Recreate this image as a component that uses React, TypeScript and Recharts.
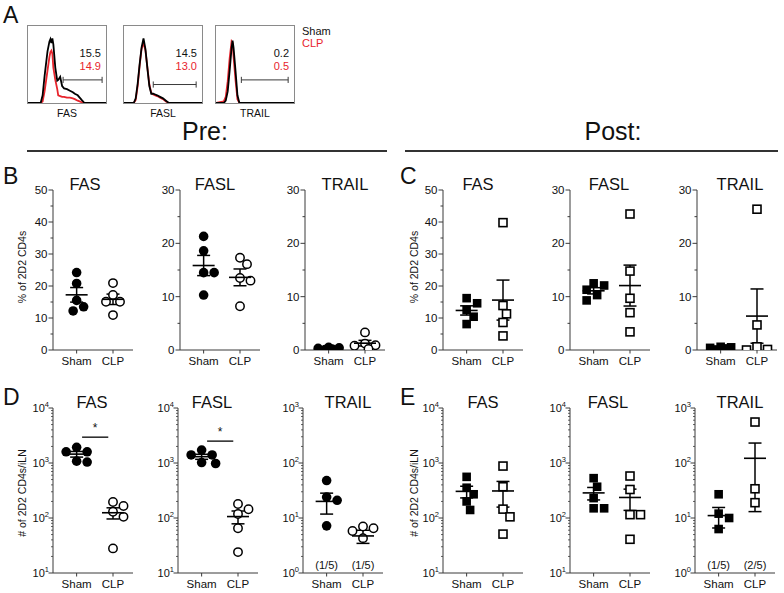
import React from "react";
import {
  ErrorBar,
  Line,
  LineChart,
  ReferenceLine,
  Scatter,
  ScatterChart,
  XAxis,
  YAxis,
} from "recharts";

const FONT = "'Liberation Sans', Arial, Helvetica, sans-serif";
const NARROW = "'Liberation Sans Narrow', 'Liberation Sans', Arial, sans-serif";
const INK = "#111111";
const AXIS = "#3a3a3a";
const RED = "#e8242c";
const BOX = "#8a8a8a";

const groups = ["Sham", "CLP"];

// A: flow histograms (channel 0-80, height in % of max)
const fasChannel = [0, 13, 15, 17, 20, 22, 23, 24, 25, 26, 28, 30, 31, 33, 35, 37, 40, 43, 46, 48, 51, 53, 55, 58, 80];
const fasSham = [0, 0, 10, 35, 67, 80, 83, 78, 84, 76, 46, 29, 30, 34, 22, 19, 18, 16, 14, 12, 10, 7, 4, 0, 0];
const fasClp = [0, 0, 2, 15, 42, 60, 66, 68, 64, 46, 30, 18, 10, 9, 8, 8, 7, 7, 6, 5, 3, 2, 1, 0, 0];

const faslChannel = [0, 10, 12, 14, 16, 18, 20, 22, 24, 26, 28, 30, 32, 34, 37, 40, 43, 46, 80];
const faslSham = [0, 0, 6, 25, 50, 72, 84, 70, 45, 22, 12, 12, 11, 10, 8, 6, 3, 0, 0];
const faslClp = [0, 0, 4, 22, 48, 70, 78, 68, 46, 24, 13, 11, 10, 9, 7, 5, 2, 0, 0];

const trailChannel = [0, 8, 10, 12, 14, 16, 17, 18, 20, 22, 24, 80];
const trailSham = [0, 0, 3, 15, 42, 72, 81, 72, 42, 10, 0, 0];
const trailClp = [0, 2, 8, 28, 58, 80, 78, 60, 30, 5, 0, 0];

const fasGate = [36, 76, 30];
const faslGate = [30, 74, 24];
const trailGate = [26, 74, 30];

const fasPct = ["15.5", "14.9"];
const faslPct = ["14.5", "13.0"];
const trailPct = ["0.2", "0.5"];

// B: % of 2D2 CD4s, pre
const preFasSham = [24.2, 20.8, 15.5, 13.5, 12.2];
const preFasClp = [20.9, 17.2, 15.1, 15.1, 10.9];
const preFaslSham = [21.3, 18.6, 14.5, 14.5, 10.3];
const preFaslClp = [17.3, 16.1, 13.5, 13.0, 8.2];
const preTrailSham = [0.5, 0.4, 0.3, 0.2, 0.1];
const preTrailClp = [3.3, 1.2, 0.9, 0.8, 0.2];

// C: % of 2D2 CD4s, post
const postFasSham = [16.2, 14.6, 12.5, 10.4, 8.1];
const postFasClp = [39.8, 13.9, 11.3, 8.6, 4.4];
const postFaslSham = [12.5, 12.1, 11.3, 10.3, 9.3];
const postFaslClp = [25.5, 14.8, 9.7, 7.0, 3.4];
const postTrailSham = [0.6, 0.5, 0.4, 0.3, 0.1];
const postTrailClp = [26.4, 4.7, 0.6, 0.1, 0];

// D: # of 2D2 CD4s/iLN, pre (zeros are not drawn on the log axis)
const preNumFasSham = [1930, 1600, 1600, 1080, 1040];
const preNumFasClp = [195, 165, 130, 105, 28];
const preNumFaslSham = [1720, 1400, 1400, 1020, 980];
const preNumFaslClp = [180, 144, 118, 65, 24];
const preNumTrailSham = [48, 24, 21, 7.2, 0];
const preNumTrailClp = [7, 6.5, 5.8, 4.3, 0];

// E: # of 2D2 CD4s/iLN, post
const postNumFasSham = [560, 355, 270, 200, 140];
const postNumFasClp = [880, 370, 145, 105, 51];
const postNumFaslSham = [530, 370, 230, 150, 150];
const postNumFaslClp = [580, 330, 115, 115, 41];
const postNumTrailSham = [27, 12, 10, 6.3, 0];
const postNumTrailClp = [556, 34, 19, 0, 0];

const pctTicks30 = [0, 5, 10, 15, 20, 25, 30];
const pctMajor30 = [0, 10, 20, 30];
const pctTicks50 = [0, 5, 10, 15, 20, 25, 30, 35, 40, 45, 50];
const pctMajor50 = [0, 10, 20, 30, 40, 50];
const logMajor4 = [10, 100, 1000, 10000];
const logMajor3 = [1, 10, 100, 1000];

// decades plus 2..9 minor ticks
function withMinors(majors: number[]) {
  const out: number[] = [];
  majors.forEach((m, i) => {
    out.push(m);
    if (i < majors.length - 1) for (let k = 2; k <= 9; k++) out.push(m * k);
  });
  return out;
}

function Txt(props: any) {
  const { x, y, size, color = INK, family = FONT, rotate = false, anchor = "middle", children } = props;
  const tx = anchor === "middle" ? "-50%" : anchor === "end" ? "-100%" : "0";
  return (
    <div
      style={{
        position: "absolute",
        left: x,
        top: y,
        transform: `translate(${tx},-50%)${rotate ? " rotate(-90deg)" : ""}`,
        fontFamily: family,
        fontSize: size,
        lineHeight: 1,
        color,
        whiteSpace: "nowrap",
      }}
    >
      {children}
    </div>
  );
}

function Histogram(props: any) {
  const { left, label, channel, sham, clp, gate, pct } = props;
  const rows = channel.map((c: number, i: number) => ({ c, sham: sham[i], clp: clp[i] }));
  const [g0, g1, lv] = gate;
  return (
    <>
      <div
        style={{
          position: "absolute",
          left,
          top: 25,
          width: 80,
          height: 79,
          border: `1px solid ${BOX}`,
          boxSizing: "border-box",
        }}
      >
        <LineChart width={78} height={77} data={rows} margin={{ top: 0, right: 0, bottom: 0, left: 0 }}>
          <XAxis type="number" dataKey="c" domain={[0, 80]} hide />
          <YAxis type="number" domain={[0, 100]} hide />
          <ReferenceLine segment={[{ x: g0, y: lv }, { x: g1, y: lv }]} stroke={AXIS} strokeWidth={1} />
          <ReferenceLine segment={[{ x: g0, y: lv - 4 }, { x: g0, y: lv + 4 }]} stroke={AXIS} strokeWidth={1} />
          <ReferenceLine segment={[{ x: g1, y: lv - 4 }, { x: g1, y: lv + 4 }]} stroke={AXIS} strokeWidth={1} />
          <Line type="linear" dataKey="clp" stroke={RED} strokeWidth={1.8} dot={false} isAnimationActive={false} />
          <Line type="linear" dataKey="sham" stroke="#000" strokeWidth={1.8} dot={false} isAnimationActive={false} />
        </LineChart>
      </div>
      <Txt x={left + 40} y={113} size={10.5}>{label}</Txt>
      <Txt x={left + 74} y={53} size={11} anchor="end">{pct[0]}</Txt>
      <Txt x={left + 74} y={66} size={11} anchor="end" color={RED}>{pct[1]}</Txt>
    </>
  );
}

const PW = 80;
const YW = 45;
const MT = 12;
const XH = 28;
const XDOM: [number, number] = [0.35, 2.55];

// simple beeswarm: spread points sideways when they collide (pixel space)
function swarm(values: number[], toPx: (v: number) => number, center: number) {
  const pxPerX = PW / (XDOM[1] - XDOM[0]);
  const h = 3.5;
  const R = 9;
  const cands = [0, 1, -1, 2, -2, 3, -3, 4, -4].map((k) => k * h);
  const placed: { px: number; py: number }[] = [];
  const out: { x: number; y: number }[] = [];
  const order = values.map((_, i) => i).sort((a, b) => values[b] - values[a]);
  for (const i of order) {
    const py = toPx(values[i]);
    let best: number | null = null;
    for (const dx of cands) {
      if (placed.every((p) => Math.hypot(p.px - dx, p.py - py) >= R)) {
        best = dx;
        break;
      }
    }
    if (best === null) {
      let bestD = -1;
      for (const dx of cands.slice(0, 5)) {
        const d = Math.min(...placed.map((p) => Math.hypot(p.px - dx, p.py - py)));
        if (d > bestD) {
          bestD = d;
          best = dx;
        }
      }
    }
    placed.push({ px: best as number, py });
    out.push({ x: center + (best as number) / pxPerX, y: values[i] });
  }
  return out;
}

function meanSem(values: number[]) {
  const n = values.length;
  const m = values.reduce((a, b) => a + b, 0) / n;
  const sd = Math.sqrt(values.reduce((a, b) => a + (b - m) * (b - m), 0) / (n - 1));
  return { m, sem: sd / Math.sqrt(n) };
}

function DotPlot(props: any) {
  const { left, top, height, title, titleX, sham, clp, log, domain, ticks, majors, square, sig } = props;
  const d0 = log ? Math.log10(domain[0]) : domain[0];
  const d1 = log ? Math.log10(domain[1]) : domain[1];
  const toPx = (v: number) => ((log ? Math.log10(v) : v) - d0) * (height / (d1 - d0));
  const keep = (v: number) => !log || v > 0;
  const shamPts = swarm(sham.filter(keep), toPx, 1);
  const clpPts = swarm(clp.filter(keep), toPx, 2);
  const summary = [sham, clp].map((vals: number[], i: number) => {
    const { m, sem } = meanSem(vals);
    return { x: i + 1, y: m, err: sem };
  });
  const notes = [sham, clp].map((vals: number[]) => {
    const z = vals.filter((v) => v <= 0).length;
    return log && z > 0 ? `(${z}/${vals.length})` : "";
  });

  const YTick = (p: any) => {
    const v = p.payload.value;
    const major = majors.includes(v);
    const exp = Math.round(Math.log10(v));
    return (
      <g>
        <line x1={p.x - (major ? 4.5 : log ? 2 : 2.5)} x2={p.x} y1={p.y} y2={p.y} stroke={AXIS} strokeWidth={log && !major ? 0.8 : 1} />
        {major &&
          (log ? (
            <text x={p.x - 4} y={p.y + 4} textAnchor="end" fontSize={11} fill={INK} fontFamily={FONT}>
              10<tspan dy={-5} fontSize={7.5}>{exp}</tspan>
            </text>
          ) : (
            <text x={p.x - 5.5} y={p.y + 4} textAnchor="end" fontSize={11.5} fill={INK} fontFamily={FONT}>
              {v}
            </text>
          ))}
      </g>
    );
  };
  const XTick = (p: any) => {
    const idx = Math.round(p.payload.value) - 1;
    return (
      <g>
        <line x1={p.x} x2={p.x} y1={p.y} y2={p.y + 3.5} stroke={AXIS} />
        <text x={p.x} y={p.y + 14.5} textAnchor="middle" fontSize={11.5} fill={INK} fontFamily={FONT}>
          {groups[idx]}
        </text>
        {notes[idx] && (
          <text x={p.x} y={p.y - 4} textAnchor="middle" fontSize={11} fill={INK} fontFamily={FONT}>
            {notes[idx]}
          </text>
        )}
      </g>
    );
  };

  const Marker = (open: boolean) => (p: any) => {
    if (p.cx == null || p.cy == null) return <g />;
    if (square) {
      const s = open ? 8 : 8.6;
      return (
        <rect
          x={p.cx - s / 2}
          y={p.cy - s / 2}
          width={s}
          height={s}
          fill={open ? "#fff" : "#000"}
          stroke="#000"
          strokeWidth={open ? 1.6 : 0}
        />
      );
    }
    return (
      <circle
        cx={p.cx}
        cy={p.cy}
        r={open ? 4.2 : 4.8}
        fill={open ? "#fff" : "#000"}
        stroke="#000"
        strokeWidth={open ? 1.5 : 0}
      />
    );
  };
  const MeanBar = (p: any) =>
    p.cx == null ? (
      <g />
    ) : (
      <line x1={p.cx - 11} x2={p.cx + 11} y1={p.cy} y2={p.cy} stroke="#000" strokeWidth={1.6} />
    );

  return (
    <>
      <Txt x={titleX} y={top - 6} size={16.5}>{title}</Txt>
      <div style={{ position: "absolute", left: left - YW, top: top - MT }}>
        <ScatterChart
          width={YW + PW + 8}
          height={MT + height + XH}
          margin={{ top: MT, right: 8, bottom: 0, left: 0 }}
        >
          <XAxis
            type="number"
            dataKey="x"
            domain={XDOM}
            ticks={[1, 2]}
            allowDataOverflow
            height={XH}
            tickSize={0}
            tickMargin={0}
            tickLine={false}
            axisLine={{ stroke: AXIS }}
            tick={XTick}
            interval={0}
          />
          <YAxis
            type="number"
            dataKey="y"
            scale={log ? "log" : "linear"}
            domain={domain}
            ticks={ticks}
            allowDataOverflow
            width={YW}
            tickSize={0}
            tickMargin={0}
            tickLine={false}
            axisLine={{ stroke: AXIS }}
            tick={YTick}
            interval={0}
          />
          {sig && (
            <ReferenceLine
              segment={[{ x: 1.15, y: sig }, { x: 1.87, y: sig }]}
              stroke="#000"
              strokeWidth={1.3}
              label={{ value: "*", position: "top", fontSize: 12, fill: INK, fontFamily: FONT }}
            />
          )}
          <Scatter data={shamPts} shape={Marker(false)} isAnimationActive={false} />
          <Scatter data={clpPts} shape={Marker(true)} isAnimationActive={false} />
          <Scatter data={summary} shape={MeanBar} isAnimationActive={false}>
            <ErrorBar dataKey="err" direction="y" width={6.5} stroke="#000" strokeWidth={1.5} isAnimationActive={false} />
          </Scatter>
        </ScatterChart>
      </div>
    </>
  );
}

export default function App() {
  const pctTop = 190;
  const pctH = 160;
  const numTop = 408;
  const numH = 165;
  const log4 = withMinors(logMajor4);
  const log3 = withMinors(logMajor3);
  return (
    <div
      style={{
        position: "absolute",
        left: 0,
        top: 0,
        width: 784,
        height: 593,
        background: "#fff",
        overflow: "hidden",
        fontFamily: FONT,
      }}
    >
      <Txt x={3} y={15} size={23} anchor="start">A</Txt>
      <Histogram left={27} label="FAS" channel={fasChannel} sham={fasSham} clp={fasClp} gate={fasGate} pct={fasPct} />
      <Histogram left={123} label="FASL" channel={faslChannel} sham={faslSham} clp={faslClp} gate={faslGate} pct={faslPct} />
      <Histogram left={215} label="TRAIL" channel={trailChannel} sham={trailSham} clp={trailClp} gate={trailGate} pct={trailPct} />
      <Txt x={302} y={31} size={11} anchor="start">Sham</Txt>
      <Txt x={302} y={43} size={11} anchor="start" color={RED}>CLP</Txt>

      <Txt x={205} y={131} size={25} family={NARROW}>Pre:</Txt>
      <Txt x={613} y={131} size={25} family={NARROW}>Post:</Txt>
      <div style={{ position: "absolute", left: 27, top: 150, width: 360, height: 2, background: "#333" }} />
      <div style={{ position: "absolute", left: 405, top: 150, width: 373, height: 2, background: "#333" }} />

      <Txt x={3} y={176} size={23} anchor="start">B</Txt>
      <Txt x={400} y={176} size={23} anchor="start">C</Txt>
      <Txt x={3} y={397} size={23} anchor="start">D</Txt>
      <Txt x={400} y={397} size={23} anchor="start">E</Txt>

      <Txt x={22} y={267} size={10.5} rotate>% of 2D2 CD4s</Txt>
      <Txt x={414} y={267} size={10.5} rotate>% of 2D2 CD4s</Txt>
      <Txt x={22} y={493} size={10.5} rotate># of 2D2 CD4s/iLN</Txt>
      <Txt x={414} y={493} size={10.5} rotate># of 2D2 CD4s/iLN</Txt>

      <DotPlot left={53} top={pctTop} height={pctH} title="FAS" titleX={85} sham={preFasSham} clp={preFasClp} domain={[0, 50]} ticks={pctTicks50} majors={pctMajor50} />
      <DotPlot left={180} top={pctTop} height={pctH} title="FASL" titleX={215} sham={preFaslSham} clp={preFaslClp} domain={[0, 30]} ticks={pctTicks30} majors={pctMajor30} />
      <DotPlot left={305} top={pctTop} height={pctH} title="TRAIL" titleX={345} sham={preTrailSham} clp={preTrailClp} domain={[0, 30]} ticks={pctTicks30} majors={pctMajor30} />

      <DotPlot left={443} top={pctTop} height={pctH} title="FAS" titleX={478} sham={postFasSham} clp={postFasClp} domain={[0, 50]} ticks={pctTicks50} majors={pctMajor50} square />
      <DotPlot left={570} top={pctTop} height={pctH} title="FASL" titleX={609} sham={postFaslSham} clp={postFaslClp} domain={[0, 30]} ticks={pctTicks30} majors={pctMajor30} square />
      <DotPlot left={697} top={pctTop} height={pctH} title="TRAIL" titleX={740} sham={postTrailSham} clp={postTrailClp} domain={[0, 30]} ticks={pctTicks30} majors={pctMajor30} square />

      <DotPlot left={53} top={numTop} height={numH} title="FAS" titleX={92} sham={preNumFasSham} clp={preNumFasClp} log domain={[10, 10000]} ticks={log4} majors={logMajor4} sig={2950} />
      <DotPlot left={178} top={numTop} height={numH} title="FASL" titleX={212} sham={preNumFaslSham} clp={preNumFaslClp} log domain={[10, 10000]} ticks={log4} majors={logMajor4} sig={2500} />
      <DotPlot left={303} top={numTop} height={numH} title="TRAIL" titleX={348} sham={preNumTrailSham} clp={preNumTrailClp} log domain={[1, 1000]} ticks={log3} majors={logMajor3} />

      <DotPlot left={443} top={numTop} height={numH} title="FAS" titleX={483} sham={postNumFasSham} clp={postNumFasClp} log domain={[10, 10000]} ticks={log4} majors={logMajor4} square />
      <DotPlot left={570} top={numTop} height={numH} title="FASL" titleX={608} sham={postNumFaslSham} clp={postNumFaslClp} log domain={[10, 10000]} ticks={log4} majors={logMajor4} square />
      <DotPlot left={695} top={numTop} height={numH} title="TRAIL" titleX={740} sham={postNumTrailSham} clp={postNumTrailClp} log domain={[1, 1000]} ticks={log3} majors={logMajor3} square />
    </div>
  );
}
